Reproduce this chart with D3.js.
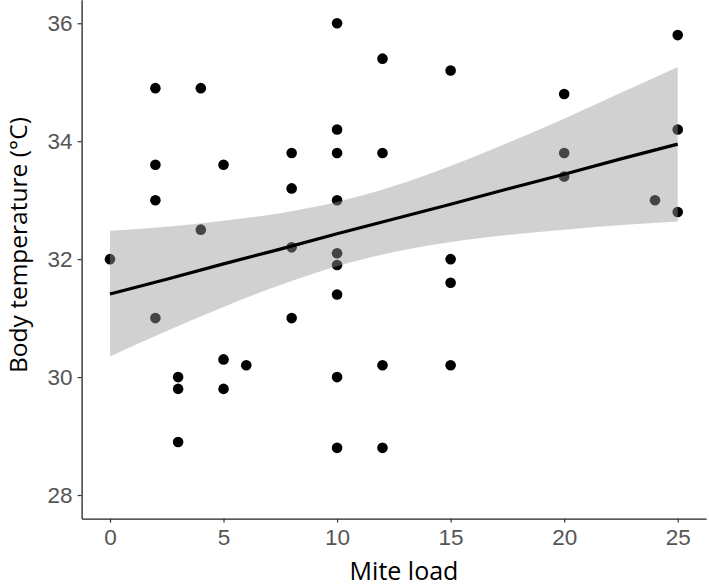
<!DOCTYPE html>
<html><head><meta charset="utf-8">
<script src="https://cdn.jsdelivr.net/npm/d3@7"></script>
<style>body{margin:0;background:#fff}svg{display:block}</style>
</head><body><svg id="c" width="709" height="587"></svg>
<script>
// Observations: mite load (x) and body temperature (y)
const miteLoad = [0,
  2,2,2,2,
  3,3,3,
  4,4,
  5,5,5,
  6,
  8,8,8,8,
  10,10,10,10,10,10,10,10,10,
  12,12,12,12,
  15,15,15,15,
  20,20,20,
  24,
  25,25,25];
const bodyTemp = [32.0,
  34.9,33.6,33.0,31.0,
  30.0,29.8,28.9,
  34.9,32.5,
  33.6,30.3,29.8,
  30.2,
  33.8,33.2,32.2,31.0,
  36.0,34.2,33.8,33.0,32.1,31.9,31.4,30.0,28.8,
  35.4,33.8,30.2,28.8,
  35.2,32.0,31.6,30.2,
  34.8,33.8,33.4,
  33.0,
  35.8,34.2,32.8];
// Fitted linear trend and 95% confidence band
const fitX     = [0, 2.5, 5, 7.5, 10, 12.5, 15, 17.5, 20, 22.5, 25];
const fitY     = [31.41, 31.66, 31.92, 32.17, 32.43, 32.68, 32.93, 33.19, 33.44, 33.70, 33.95];
const fitLower = [30.35, 30.78, 31.19, 31.56, 31.88, 32.12, 32.29, 32.41, 32.50, 32.58, 32.64];
const fitUpper = [32.48, 32.55, 32.65, 32.78, 32.97, 33.24, 33.58, 33.97, 34.38, 34.82, 35.26];
const xTicks = [0, 5, 10, 15, 20, 25];
const yTicks = [28, 30, 32, 34, 36];
const xTitle = "Mite load";
const yTitle = "Body temperature (°C)";

const svg = d3.select("#c");
const x = d3.scaleLinear().domain([-1.25, 26.25]).range([81.6, 706.1]);
const y = d3.scaleLinear().domain([27.6, 36.4]).range([518.6, -0.3]);

// points
svg.append("g").selectAll("circle").data(miteLoad.map((d,i)=>[d, bodyTemp[i]]))
  .join("circle").attr("cx", d=>x(d[0])).attr("cy", d=>y(d[1])).attr("r", 5.3).attr("fill", "#000");

// confidence band
const band = fitX.map((d,i)=>({x:d, lo:fitLower[i], hi:fitUpper[i], m:fitY[i]}));
svg.append("path").datum(band)
  .attr("d", d3.area().x(d=>x(d.x)).y0(d=>y(d.lo)).y1(d=>y(d.hi)).curve(d3.curveMonotoneX))
  .attr("fill", "#999999").attr("fill-opacity", 0.45);
svg.append("path").datum(band)
  .attr("d", d3.line().x(d=>x(d.x)).y(d=>y(d.m)))
  .attr("fill", "none").attr("stroke", "#000").attr("stroke-width", 3.2);

// axes
const font = "'Liberation Sans', Arial, sans-serif";
const gx = svg.append("g").attr("transform", `translate(0,${y(27.6)})`)
  .call(d3.axisBottom(x).tickValues(xTicks).tickSize(4).tickSizeOuter(0).tickPadding(6));
const gy = svg.append("g").attr("transform", `translate(${x(-1.25)},0)`)
  .call(d3.axisLeft(y).tickValues(yTicks).tickSize(4).tickSizeOuter(0).tickPadding(5));
[gx, gy].forEach(g => {
  g.select(".domain").attr("stroke", "#222").attr("stroke-width", 1.3);
  g.selectAll(".tick line").attr("stroke", "#333").attr("stroke-width", 1.2);
  g.selectAll(".tick text").attr("fill", "#555").attr("font-size", 22.5).attr("font-family", font);
});

// titles
svg.append("text").attr("x", 404).attr("y", 580).attr("text-anchor", "middle")
  .attr("font-family", "'Open Sans', sans-serif").attr("font-size", 25).attr("fill", "#000").text(xTitle);
svg.append("text").attr("transform", "translate(27,245) rotate(-90)").attr("text-anchor", "middle")
  .attr("font-family", "'Open Sans', sans-serif").attr("font-size", 24.5).attr("fill", "#000").text(yTitle);
</script></body></html>
